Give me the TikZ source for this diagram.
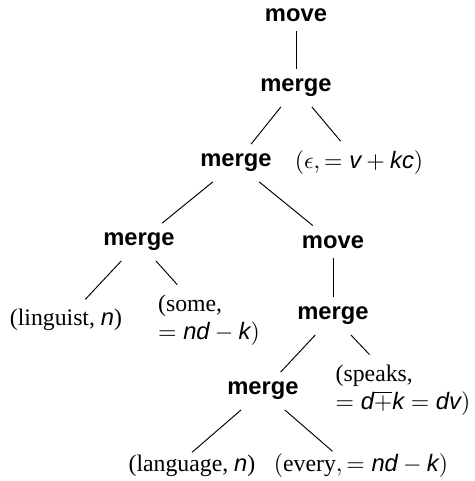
\documentclass[tikz,border=0pt]{standalone}
\usepackage{fontspec}
\setmainfont{Liberation Serif}
\setsansfont{Liberation Sans}
\usepackage{tikz}
\newcommand*{\sv}[1]{\textsf{\itshape #1}}

\begin{document}
\begin{tikzpicture}[x=0.0148cm,y=-0.0148cm,op/.style={font=\sffamily\bfseries,inner sep=4pt},leaf/.style={inner sep=4pt,align=left}]
\useasboundingbox(0,0)rectangle(475,481);
\node[op](mv1)at(296,15){move};
\node[op](mg1)at(296,88){merge};
\node[leaf](eps)at(359,163){$(\epsilon,=\sv{v}+\sv{kc})$};
\node[op](mg2)at(236,163){merge};
\node[op](mg3)at(139,242){merge};
\node[op](mv2)at(333,242){move};
\node[leaf](lng)at(66,320){(linguist, \sv{n})};
\node[leaf](som)at(209,320){(some,\\$=\sv{nd}-\sv{k})$};
\node[op](mg4)at(333,316){merge};
\node[op](mg5)at(263,391){merge};
\node[leaf](spk)at(403,390){(speaks,\\$=\sv{d}\overline{+}\sv{k}=\sv{dv})$};
\node[leaf,inner sep=1pt](lang)at(192,466){(language, \sv{n})};
\node[leaf,inner sep=1pt](evr)at(361,466){$(\mbox{every},=\sv{nd}-\sv{k})$};
\draw(mv1)--(mg1);
\draw(mg1)--(mg2);
\draw(mg1)--(eps);
\draw(mg2)--(mg3);
\draw(mg2)--(mv2);
\draw(mg3)--(lng);
\draw(mg3)--(som);
\draw(mv2)--(mg4);
\draw(mg4)--(mg5);
\draw(mg4)--(spk);
\draw(mg5)--(lang.north);
\draw(mg5)--([xshift=-12pt]evr.north);
\end{tikzpicture}
\end{document}
